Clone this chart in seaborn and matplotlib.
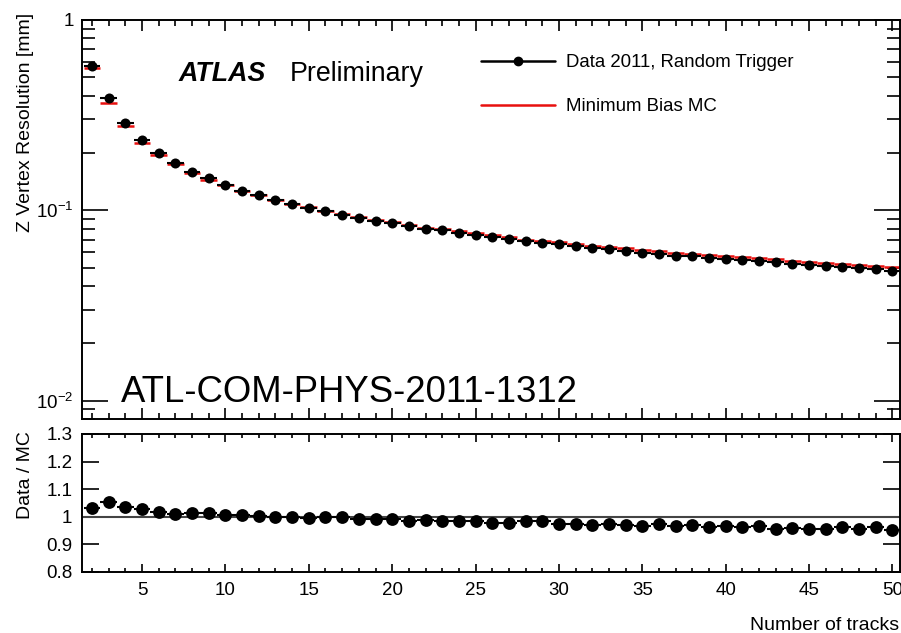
import matplotlib
matplotlib.use("Agg")
import matplotlib.pyplot as plt
import seaborn as sns
import numpy as np
from matplotlib.lines import Line2D
from matplotlib.ticker import MultipleLocator, LogLocator, FixedLocator, FixedFormatter, NullFormatter

# ---------------- data ----------------
n_tracks = list(range(2, 51))
data_res = [0.575, 0.387, 0.288, 0.233, 0.199, 0.177, 0.159, 0.147, 0.136, 0.127,
            0.120, 0.113, 0.108, 0.103, 0.0988, 0.0949, 0.0911, 0.0879, 0.0857, 0.0826,
            0.0801, 0.0785, 0.0763, 0.0745, 0.0724, 0.0706, 0.0689, 0.0676, 0.0662, 0.0647,
            0.0634, 0.0623, 0.0611, 0.0599, 0.0592, 0.0577, 0.0573, 0.0564, 0.0554, 0.0546,
            0.0539, 0.0532, 0.0522, 0.0514, 0.0507, 0.0503, 0.0495, 0.0491, 0.0480]
mc_res = [0.557, 0.368, 0.278, 0.227, 0.195, 0.175, 0.157, 0.145, 0.135, 0.126,
          0.120, 0.113, 0.108, 0.1035, 0.0990, 0.0951, 0.0917, 0.0886, 0.0864, 0.0838,
          0.0809, 0.0796, 0.0775, 0.0756, 0.0740, 0.0721, 0.0701, 0.0688, 0.0680, 0.0665,
          0.0652, 0.0640, 0.0630, 0.0619, 0.0608, 0.0596, 0.0591, 0.0585, 0.0573, 0.0566,
          0.0558, 0.0557, 0.0544, 0.0538, 0.0531, 0.0523, 0.0518, 0.0510, 0.0504]
ratio = [1.033, 1.052, 1.037, 1.027, 1.019, 1.011, 1.015, 1.012, 1.007, 1.005,
         1.002, 1.000, 1.001, 0.995, 0.998, 0.998, 0.993, 0.992, 0.992, 0.986,
         0.990, 0.986, 0.985, 0.986, 0.979, 0.979, 0.983, 0.983, 0.973, 0.973,
         0.972, 0.973, 0.970, 0.968, 0.973, 0.968, 0.970, 0.964, 0.966, 0.964,
         0.966, 0.955, 0.959, 0.956, 0.955, 0.962, 0.956, 0.962, 0.953]
bin_half_width = 0.5

y_major_ticks = [0.01, 0.1, 1]
y_major_labels = ["10$^{-2}$", "10$^{-1}$", "1"]
ratio_ticks = [0.8, 0.9, 1.0, 1.1, 1.2, 1.3]
ratio_labels = ["0.8", "0.9", "1", "1.1", "1.2", "1.3"]

# ---------------- style ----------------
sns.set_theme(style="ticks")
plt.rcParams["font.family"] = ["Liberation Sans", "DejaVu Sans"]
plt.rcParams["mathtext.fontset"] = "custom"
plt.rcParams["mathtext.rm"] = "Liberation Sans"
plt.rcParams["mathtext.it"] = "Liberation Sans:italic"
plt.rcParams["mathtext.bf"] = "Liberation Sans:bold"
plt.rcParams["mathtext.default"] = "regular"
plt.rcParams["axes.linewidth"] = 1.4
plt.rcParams["axes.edgecolor"] = "black"
plt.rcParams["text.color"] = "black"
plt.rcParams["axes.labelcolor"] = "black"
plt.rcParams["xtick.color"] = "black"
plt.rcParams["ytick.color"] = "black"
plt.rcParams["xtick.labelcolor"] = "black"
plt.rcParams["ytick.labelcolor"] = "black"

W, H = 901, 633
fig = plt.figure(figsize=(W / 100, H / 100), dpi=100)

def fr(x0, y0, x1, y1):
    return [x0 / W, 1 - y1 / H, (x1 - x0) / W, (y1 - y0) / H]

ax1 = fig.add_axes(fr(82, 20, 900, 419))
ax2 = fig.add_axes(fr(82, 434, 900, 572))

xlim = (1.4, 50.45)
tick_fs = 13.5
label_fs = 14

# ---------------- top panel ----------------
ax1.errorbar(n_tracks, mc_res, xerr=bin_half_width, fmt="none", ecolor="#e8100f",
             elinewidth=1.8, capsize=0, zorder=2)
ax1.errorbar(n_tracks, data_res, xerr=bin_half_width, fmt="none", ecolor="black",
             elinewidth=1.5, capsize=0, zorder=3)
sns.scatterplot(x=n_tracks, y=data_res, ax=ax1, color="black", edgecolor="black",
                s=52, linewidth=0, zorder=4, legend=False)
ax1.set_yscale("log")
ax1.set_ylim(0.0080, 1.0)
ax1.set_xlim(*xlim)
ax1.yaxis.set_major_locator(FixedLocator(y_major_ticks))
ax1.yaxis.set_major_formatter(FixedFormatter(y_major_labels))
ax1.yaxis.set_minor_locator(LogLocator(base=10, subs=np.arange(2, 10)))
ax1.yaxis.set_minor_formatter(NullFormatter())
ax1.xaxis.set_major_locator(MultipleLocator(5))
ax1.xaxis.set_minor_locator(MultipleLocator(1))
ax1.tick_params(axis="x", which="both", labelbottom=False)
ax1.tick_params(which="both", direction="in", top=True, right=True, color="black", width=1.2)
ax1.tick_params(axis="x", which="major", length=8)
ax1.tick_params(axis="x", which="minor", length=4)
ax1.tick_params(axis="y", which="major", length=19, labelsize=tick_fs, pad=6)
ax1.tick_params(axis="y", which="minor", length=9.5)
ax1.set_xlabel("")
ax1.set_ylabel("")

# ATLAS label
ax1.text((179 - 82) / 818, 1 - (81 - 20) / 399, "ATLAS", transform=ax1.transAxes,
         fontsize=19.3, fontweight="bold", fontstyle="italic", ha="left", va="baseline")
ax1.text((290 - 82) / 818, 1 - (81 - 20) / 399, "Preliminary", transform=ax1.transAxes,
         fontsize=19.3, ha="left", va="baseline")
ax1.text((121 - 82) / 818, 1 - (402 - 20) / 399, "ATL-COM-PHYS-2011-1312",
         transform=ax1.transAxes, fontsize=26.3, ha="left", va="baseline")

handles = [
    Line2D([], [], color="black", lw=1.8, marker="o", markersize=6),
    Line2D([], [], color="#e8100f", lw=1.8),
]
ax1.legend(handles, ["Data 2011, Random Trigger", "Minimum Bias MC"],
           loc="upper left", bbox_to_anchor=((481 - 82) / 818, 1 - (54 - 20) / 399),
           frameon=False, fontsize=13.4, handlelength=4.0, handletextpad=0.55,
           labelspacing=1.45, borderpad=0, borderaxespad=0)

# ---------------- bottom panel ----------------
ax2.axhline(1.0, color="#444444", lw=1.5, zorder=1)
ax2.errorbar(n_tracks, ratio, xerr=bin_half_width, fmt="none", ecolor="black",
             elinewidth=1.5, capsize=0, zorder=3)
sns.scatterplot(x=n_tracks, y=ratio, ax=ax2, color="black", edgecolor="black",
                s=85, linewidth=0, zorder=4, legend=False)
ax2.set_xlim(*xlim)
ax2.set_ylim(0.8, 1.3)
ax2.yaxis.set_major_locator(FixedLocator(ratio_ticks))
ax2.yaxis.set_major_formatter(FixedFormatter(ratio_labels))
ax2.xaxis.set_major_locator(MultipleLocator(5))
ax2.xaxis.set_minor_locator(MultipleLocator(1))
ax2.tick_params(which="both", direction="in", top=True, right=True, color="black", width=1.2)
ax2.tick_params(axis="x", which="major", length=6, labelsize=tick_fs, pad=7)
ax2.tick_params(axis="x", which="minor", length=3)
ax2.tick_params(axis="y", which="major", length=12, labelsize=tick_fs, pad=7)
ax2.set_xlabel("")
ax2.set_ylabel("")

# axis titles (ROOT style, aligned to the end of the axes)
fig.text(26 / W, 1 - 13 / H, "Z Vertex Resolution [mm]", rotation=90, ha="center",
         va="top", fontsize=label_fs)
fig.text(26 / W, 1 - 431 / H, "Data / MC", rotation=90, ha="center", va="top",
         fontsize=label_fs)
fig.text(899 / W, 1 - 630 / H, "Number of tracks", ha="right", va="baseline",
         fontsize=label_fs)

fig.savefig("out.png", dpi=100)
